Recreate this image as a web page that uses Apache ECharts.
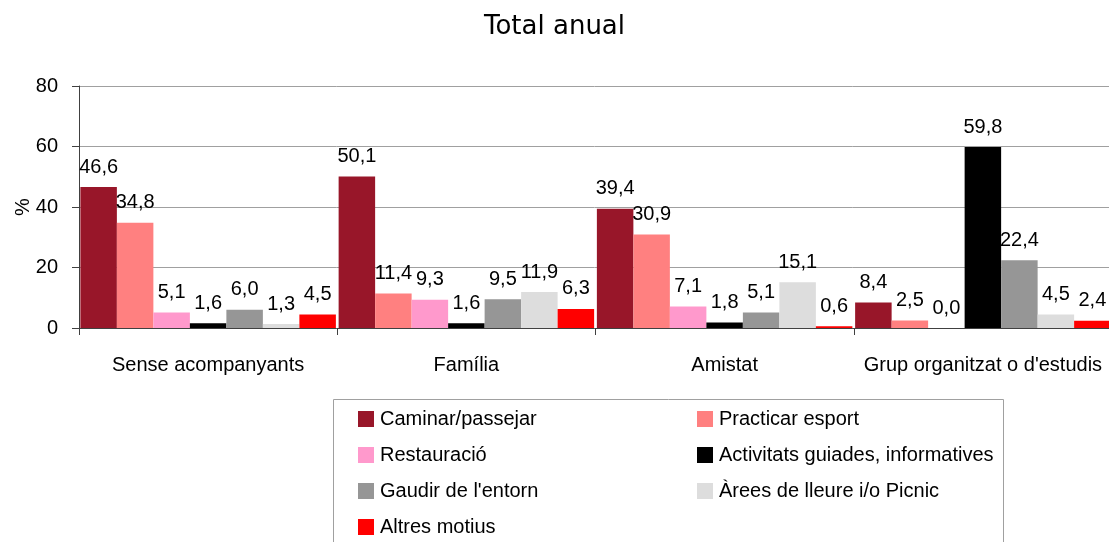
<!DOCTYPE html>
<html>
<head>
<meta charset="utf-8">
<title>Total anual</title>
<script src="https://cdn.jsdelivr.net/npm/echarts@6/dist/echarts.min.js"></script>
<style>
  html, body { margin: 0; padding: 0; background: #ffffff; }
  #chart { width: 1109px; height: 542px; }
</style>
</head>
<body>
<div id="chart"></div>
<script>
// Companion categories on the x axis
const categories = ['Sense acompanyants', 'Família', 'Amistat', "Grup organitzat o d'estudis"];

// Activity series (percent per companion category)
const seriesNames = [
  'Caminar/passejar',
  'Practicar esport',
  'Restauració',
  'Activitats guiades, informatives',
  "Gaudir de l'entorn",
  'Àrees de lleure i/o Picnic',
  'Altres motius'
];
const caminar     = [46.6, 50.1, 39.4, 8.4];
const esport      = [34.8, 11.4, 30.9, 2.5];
const restauracio = [5.1, 9.3, 7.1, 0.0];
const activitats  = [1.6, 1.6, 1.8, 59.8];
const gaudir      = [6.0, 9.5, 5.1, 22.4];
const arees       = [1.3, 11.9, 15.1, 4.5];
const altres      = [4.5, 6.3, 0.6, 2.4];

const seriesValues = [caminar, esport, restauracio, activitats, gaudir, arees, altres];
const colors = ['#981629', '#FF8080', '#FF99CC', '#000000', '#969696', '#DDDDDD', '#FF0000'];

// y axis ticks
const yTicks = [0, 20, 40, 60, 80];

const FONT = '"Liberation Sans", Arial, sans-serif';

const chart = echarts.init(document.getElementById('chart'), null, { renderer: 'canvas' });

const series = seriesNames.map((name, i) => ({
  name: name,
  type: 'bar',
  data: seriesValues[i],
  barWidth: 36.5,
  barGap: '0%',
  itemStyle: { color: colors[i] },
  label: {
    show: true,
    position: 'top',
    distance: 10,
    color: '#000',
    fontFamily: FONT,
    fontSize: 20,
    formatter: p => p.value.toFixed(1).replace('.', ',')
  },
  emphasis: { disabled: true }
}));

const legendText = {
  fontFamily: FONT,
  fontSize: 20,
  color: '#000',
  padding: [0, 0, 0, 1]
};

// Legend laid out as two vertical columns inside a framed box
const legendCommon = {
  orient: 'vertical',
  top: 409,
  height: 200,
  padding: 0,
  itemWidth: 16,
  itemHeight: 16,
  itemGap: 16,
  icon: 'rect',
  selectedMode: false,
  textStyle: legendText
};

chart.setOption({
  animation: false,
  backgroundColor: '#ffffff',
  title: {
    text: 'Total anual',
    left: 'center',
    top: 9,
    textStyle: {
      fontFamily: '"DejaVu Sans", Verdana, sans-serif',
      fontSize: 26,
      fontWeight: 'normal',
      color: '#000'
    }
  },
  grid: {
    left: 79, right: -3, top: 86, bottom: 214,
    containLabel: false,
    outerBoundsMode: 'none'
  },
  xAxis: {
    type: 'category',
    data: categories,
    axisLine: { show: true, lineStyle: { color: '#404040', width: 1 } },
    axisTick: { show: true, length: 7, lineStyle: { color: '#404040' } },
    axisLabel: {
      interval: 0,
      fontFamily: FONT,
      fontSize: 20,
      color: '#000',
      margin: 27
    }
  },
  yAxis: {
    type: 'value',
    min: yTicks[0],
    max: yTicks[yTicks.length - 1],
    interval: 20,
    name: '%',
    nameLocation: 'middle',
    nameRotate: 90,
    nameGap: 46,
    nameMoveOverlap: false,
    nameTextStyle: { fontFamily: FONT, fontSize: 20, color: '#000' },
    axisLine: { show: true, lineStyle: { color: '#404040', width: 1 } },
    axisTick: { show: true, length: 7, lineStyle: { color: '#404040' } },
    axisLabel: { fontFamily: FONT, fontSize: 20, color: '#000', margin: 21 },
    splitLine: { show: true, lineStyle: { color: '#A0A0A0', width: 1 } }
  },
  legend: [
    Object.assign({}, legendCommon, {
      left: 358,
      data: [seriesNames[0], seriesNames[2], seriesNames[4], seriesNames[6]]
    }),
    Object.assign({}, legendCommon, {
      left: 697,
      data: [seriesNames[1], seriesNames[3], seriesNames[5]]
    })
  ],
  graphic: [
    {
      type: 'rect',
      silent: true,
      shape: { x: 333.5, y: 399.5, width: 670, height: 160 },
      style: { fill: 'none', stroke: '#A0A0A0', lineWidth: 1 }
    }
  ],
  series: series
});
</script>
</body>
</html>
